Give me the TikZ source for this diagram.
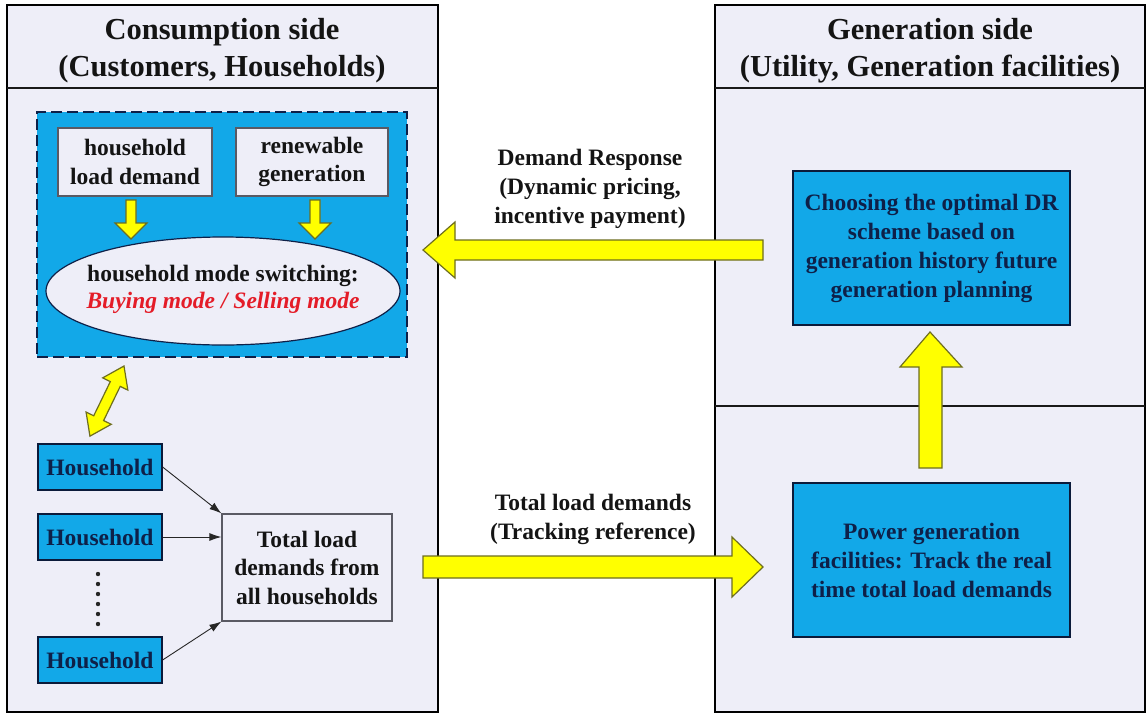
\documentclass[tikz,border=0pt]{standalone}
\usepackage{fontspec}
\setmainfont{LiberationSerif}[Extension=.ttf, UprightFont=*-Regular, BoldFont=*-Bold, ItalicFont=*-Italic, BoldItalicFont=*-BoldItalic]
\usetikzlibrary{arrows.meta,shapes.geometric}
\definecolor{lav}{RGB}{238,238,248}
\definecolor{bblue}{RGB}{18,168,232}
\definecolor{navy}{RGB}{14,32,72}
\definecolor{yel}{RGB}{255,255,0}
\definecolor{olive}{RGB}{110,110,30}
\definecolor{bordergray}{RGB}{90,90,100}
\definecolor{modered}{RGB}{228,28,40}
\begin{document}
\begin{tikzpicture}[x=1pt,y=-1pt,
 panel/.style={draw=black,line width=2.5pt,fill=lav},
 divider/.style={line width=2pt,draw=black!90},
 titletext/.style={font=\fontsize{30.5}{37}\selectfont\bfseries,align=center,text=black!92},
 bluebox/.style={draw=navy!80!black,line width=1.2pt,fill=bblue,font=\fontsize{23.5}{29}\selectfont\bfseries,text=navy,align=center,inner sep=0pt},
 graybox/.style={draw=bordergray,line width=1.2pt,fill=lav,font=\fontsize{23.5}{28.5}\selectfont\bfseries,align=center,inner sep=0pt,text=black!92},
 yarrow/.style={fill=yel,draw=olive,line width=1.2pt,line join=miter},
 lbl/.style={font=\fontsize{23.5}{29}\selectfont\bfseries,align=center,text=black!92},
 thinarrow/.style={-{Latex[length=12pt,width=8pt]},line width=0.9pt,draw=black!85}
]
\useasboundingbox (0,0) rectangle (1147,715);
\fill[white] (0,0) rectangle (1147,715);

% panels
\draw[panel] (7,5) rectangle (438,712);
\draw[divider] (7,88) -- (438,88);
\draw[panel] (715,5) rectangle (1145,712);
\draw[divider] (715,88) -- (1145,88);
\draw[divider] (715,406) -- (1145,406);

\node[titletext] (ltitle) at (222,51) {Consumption side\\(Customers, Households)};
\node[titletext] (rtitle) at (930,51) {Generation side\\(Utility, Generation facilities)};

% dashed household block
\node[draw=navy, dash pattern=on 11pt off 5pt, line width=1.5pt, fill=bblue,
      minimum width=370pt, minimum height=245pt, inner sep=0pt] (hblock) at (222,234.5) {};
\node[graybox, minimum width=154pt, minimum height=68pt] (load) at (135,162) {household\\load demand};
\node[graybox, minimum width=152pt, minimum height=68pt] (renew) at (312,162) {renewable\\generation};

\foreach \c in {131,315}{
  \draw[yarrow] (\c-5,200) -- (\c+5,200) -- (\c+5,223) -- (\c+16,223) -- (\c,239) -- (\c-16,223) -- (\c-5,223) -- cycle;
}

\draw[draw=navy, line width=1.2pt, fill=lav] (223,291) ellipse [x radius=177, y radius=54];
\node[font=\fontsize{23.5}{27}\selectfont\bfseries, align=center, text=black!92, inner sep=0pt] (mode) at (223,289)
  {household mode switching:\\{\color{modered}\itshape Buying mode / Selling mode}};

% double arrow
\begin{scope}[shift={(124,366)}, rotate=-115.9]
  \draw[yarrow] (0,0) -- (20,14) -- (20,5.5) -- (58,5.5) -- (58,14) -- (78,0) -- (58,-14) -- (58,-5.5) -- (20,-5.5) -- (20,-14) -- cycle;
\end{scope}

% households
\node[bluebox, minimum width=124pt, minimum height=46pt] (h1) at (100,467) {Household};
\node[bluebox, minimum width=124pt, minimum height=46pt] (h2) at (100,537) {Household};
\node[bluebox, minimum width=124pt, minimum height=46pt] (h4) at (100,660) {Household};
\foreach \y in {574,584,...,624} \fill[black!85] (98,\y) circle (2.2);

\node[graybox, minimum width=170pt, minimum height=107pt] (total) at (307,567.5) {Total load\\demands from\\all households};

\draw[thinarrow] (h1.east) -- (total.north west);
\draw[thinarrow] (h2.east) -- (h2.east -| total.west);
\draw[thinarrow] (h4.east) -- (total.south west);

% right side boxes
\node[bluebox, minimum width=277pt, minimum height=154pt] (choose) at (931.5,248)
  {Choosing the optimal DR\\scheme based on\\generation history future\\generation planning};
\node[bluebox, minimum width=277pt, minimum height=154pt] (power) at (931.5,560)
  {Power generation\\facilities: Track the real\\time total load demands};

% big yellow arrows
\draw[yarrow] (763,240) -- (455,240) -- (455,222) -- (423,250) -- (455,278) -- (455,260) -- (763,260) -- cycle;
\draw[yarrow] (423,556) -- (732,556) -- (732,537) -- (763,567) -- (732,597) -- (732,578) -- (423,578) -- cycle;
\draw[yarrow] (919,468) -- (919,367) -- (900,367) -- (930,332) -- (962,367) -- (942,367) -- (942,468) -- cycle;

\node[lbl] (drl) at (590,189) {Demand Response\\(Dynamic pricing,\\incentive payment)};
\node[lbl] (tll) at (593,519) {Total load demands\\(Tracking reference)};
\end{tikzpicture}
\end{document}
